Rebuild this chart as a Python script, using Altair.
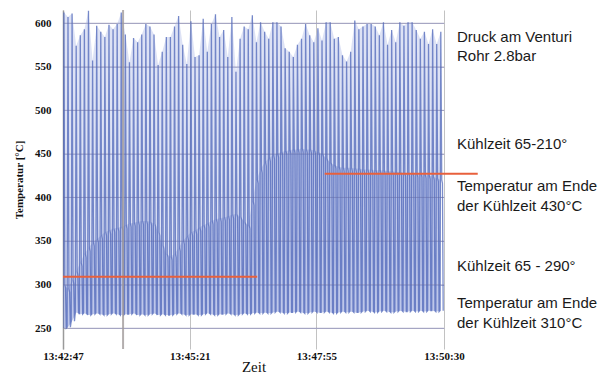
import altair as alt
import pandas as pd

# ---- data ----
peaks = [612, 607, 611, 574, 586, 593, 614, 557, 597, 590, 584, 598, 593, 599, 612, 587,
         555, 583, 578, 587, 599, 596, 587, 552, 567, 584, 584, 596, 608, 575, 553, 602,
         561, 563, 605, 567, 599, 610, 584, 592, 561, 607, 544, 582, 596, 593, 609,
         578, 601, 590, 582, 601, 601, 596, 571, 567, 561, 575, 582, 599, 586, 578, 594,
         580, 601, 601, 582, 584, 563, 556, 567, 603, 593, 596, 599, 599, 596, 586, 601,
         575, 592, 578, 601, 597, 601, 601, 592, 582, 590, 576, 593, 576, 590]
envelope = [300, 295,
            305, 315, 325, 335, 342,
            348, 352, 356, 360, 362, 364, 365,
            366, 368, 370, 371, 372, 373, 373, 372, 370,
            360, 345, 335, 332, 335, 342,
            350, 355, 360, 362, 365, 368, 370, 373, 375, 376, 377, 378,
            380, 381, 378, 372, 368,
            395, 420, 432, 440,
            445, 448, 450, 452, 453, 454, 455, 455, 456, 455, 455, 454, 452, 450,
            445, 440, 437, 435, 434, 434,
            434, 433, 433, 432, 432, 432, 431, 431, 431, 430, 430, 429, 429, 428, 428,
            428, 427, 427, 426, 425, 424, 422, 420]
troughs = [250, 251, 258, 268, 266, 267, 265, 266, 267, 266, 265, 266, 267, 266, 265, 266,
           266, 267, 265, 266, 265, 266, 267, 265, 266, 265, 265, 266, 267, 266, 265, 266,
           266, 265, 266, 267, 266, 265, 266, 266, 267, 266, 265, 266, 267, 266, 267, 268,
           267, 268, 267, 268, 269, 268, 267, 268, 268, 269, 268, 267, 268, 269, 268, 268,
           269, 268, 267, 268, 269, 268, 269, 268, 268, 269, 270, 269, 268, 269, 270, 269,
           268, 269, 270, 269, 269, 270, 269, 270, 269, 270, 270, 269, 270]

total_seconds = 463
tick_seconds = [0, 154, 308, 463]
tick_labels = ["13:42:47", "13:45:21", "13:47:55", "13:50:30"]
y_ticks = [250, 300, 350, 400, 450, 500, 550, 600]
cursor_seconds = [73]
red_start = [0, 318]
red_end = [236, 504]
red_level = [309, 427]

ann_text = ["Druck am Venturi", "Rohr 2.8bar", "Kühlzeit 65-210°", "Temperatur am Ende",
            "der Kühlzeit 430°C", "Kühlzeit 65 - 290°", "Temperatur am Ende",
            "der Kühlzeit 310°C"]
ann_y = [27, 46, 134, 176, 196, 256, 293, 313]

# ---- build the signal table (one cycle per set of readings) ----
n = min(len(peaks), len(envelope), len(troughs))
period = total_seconds / n
rows = []
band = []
for i in range(n):
    t0 = i * period
    rows.append((t0, troughs[i]))
    rows.append((t0 + 0.22 * period, peaks[i]))
    rows.append((t0 + 0.45 * period, envelope[i]))
    rows.append((t0 + 0.62 * period, envelope[i] - 4))
    rows.append((t0 + 0.80 * period, troughs[i]))
    band.append((t0 + 0.22 * period, peaks[i], troughs[i], envelope[i]))
sig = pd.DataFrame(rows, columns=["t", "v"])
bnd = pd.DataFrame(band, columns=["t", "hi", "lo", "env"])

label_expr = ""
for s, l in zip(tick_seconds, tick_labels):
    label_expr += f"datum.value == {s} ? '{l}' : "
label_expr += "''"

W, H = 381, 339
serif = "Liberation Serif"

xscale = alt.Scale(domain=[0, total_seconds], nice=False, zero=False)
yscale = alt.Scale(domain=[226, 615], nice=False, zero=False)

base_x = alt.X("t:Q", scale=xscale, axis=alt.Axis(
    values=tick_seconds, labelExpr=label_expr, title="Zeit", grid=True,
    gridColor="#c2c2c2", gridWidth=1, ticks=False, domain=False,
    labelFont=serif, labelFontWeight="bold", labelFontSize=11, labelColor="#111",
    labelPadding=1, labelOverlap=False, labelBound=False, labelFlush=False,
    titleFont=serif, titleFontSize=15, titleFontWeight="normal", titleColor="#111",
    titlePadding=-2))
base_y = alt.Y("v:Q", scale=yscale, axis=alt.Axis(
    values=y_ticks, title="Temperatur [°C]", grid=True, gridColor="#b2b2cc",
    ticks=False, domain=True, domainColor="#9a9a9a", domainWidth=1.5,
    labelFont=serif, labelFontWeight="bold", labelFontSize=11, labelColor="#111",
    labelPadding=12, titleFont=serif, titleFontSize=11, titleFontWeight="bold",
    titleColor="#111", titlePadding=10))

fill_hi = alt.Chart(bnd).mark_area(color="#b4bfe8", opacity=0.45, clip=True).encode(
    x=alt.X("t:Q", scale=xscale), y=alt.Y("hi:Q", scale=yscale), y2="lo:Q")
fill_lo = alt.Chart(bnd).mark_area(color="#8596d6", opacity=0.35, clip=True).encode(
    x=alt.X("t:Q", scale=xscale), y=alt.Y("env:Q", scale=yscale), y2="lo:Q")

signal = alt.Chart(sig).mark_line(color="#4e66b8", strokeWidth=1.3, opacity=0.75,
                                  clip=True).encode(x=base_x, y=base_y)

hgrid = alt.Chart(pd.DataFrame({"v": y_ticks})).mark_rule(
    color="#6a6a9a", strokeWidth=1, opacity=0.3).encode(y=alt.Y("v:Q", scale=yscale))

cursor = alt.Chart(pd.DataFrame({"t": cursor_seconds})).mark_rule(
    color="#a09a9a", strokeWidth=2, opacity=0.8).encode(x=alt.X("t:Q", scale=xscale))

red = alt.Chart(pd.DataFrame({"t1": red_start, "t2": red_end, "v": red_level})).mark_rule(
    color="#e8603c", strokeWidth=2, clip=False).encode(
    x=alt.X("t1:Q", scale=xscale), x2="t2:Q", y=alt.Y("v:Q", scale=yscale))

texts = []
for txt, py in zip(ann_text, ann_y):
    texts.append(alt.Chart(pd.DataFrame({"a": [0]})).mark_text(
        align="left", baseline="middle", font="Liberation Sans", fontSize=15,
        color="#1a1a1a").encode(text=alt.value(txt), x=alt.value(394), y=alt.value(py)))

chart = alt.layer(fill_hi, fill_lo, signal, hgrid, cursor, red, *texts).properties(
    width=W, height=H,
    autosize=alt.AutoSizeParams(type="none"),
    padding={"left": 55, "top": 2, "right": 155, "bottom": 28},
).configure_view(stroke="transparent")

chart.save("out.html", embed_options={"renderer": "svg", "actions": False})
